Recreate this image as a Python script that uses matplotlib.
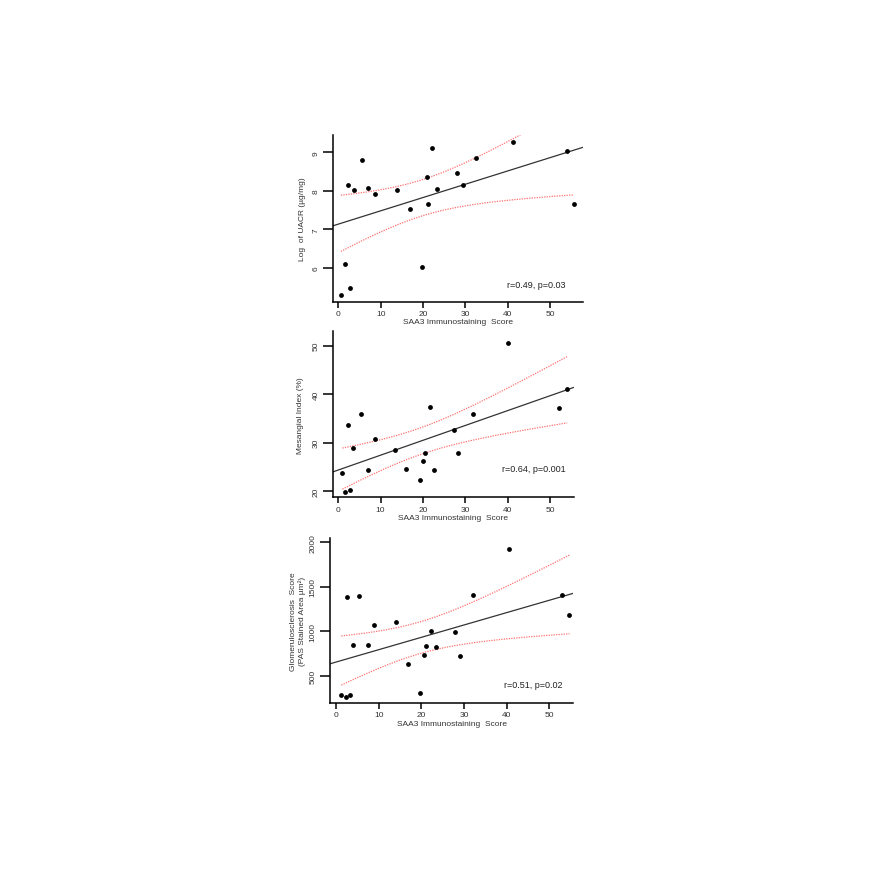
import numpy as np
import matplotlib.pyplot as plt

plt.rcParams['font.family'] = ['Liberation Sans', 'DejaVu Sans']

# panel 1: log UACR vs SAA3 score
x1 = [0.6, 1.6, 2.2, 2.75, 3.6, 5.5, 7.1, 8.7, 13.9, 16.9, 19.7, 20.9, 21.2,
      22.2, 23.2, 28.0, 29.4, 32.4, 41.2, 54.0, 55.6]
y1 = [5.30, 6.10, 8.16, 5.48, 8.02, 8.79, 8.06, 7.92, 8.02, 7.53, 6.03, 8.37,
      7.66, 9.10, 8.05, 8.45, 8.16, 8.85, 9.28, 9.03, 7.66]

# panel 2: mesangial index vs SAA3 score
x2 = [1.0, 1.7, 2.7, 2.3, 3.6, 5.4, 7.1, 8.7, 13.5, 16.1, 19.3, 20.0, 20.5,
      21.6, 22.5, 27.4, 28.3, 31.7, 40.0, 52.1, 54.0]
y2 = [23.8, 19.9, 20.3, 33.7, 29.0, 35.9, 24.4, 30.7, 28.5, 24.6, 22.4, 26.3,
      27.9, 37.4, 24.3, 32.7, 27.8, 35.9, 50.6, 37.1, 41.1]

# panel 3: glomerulosclerosis vs SAA3 score
x3 = [1.25, 2.3, 3.3, 2.7, 5.5, 4.1, 7.5, 8.9, 14.1, 16.8, 19.7, 20.7, 21.2,
      22.2, 23.4, 27.8, 29.0, 32.0, 40.5, 53.0, 54.7]
y3 = [286, 260, 286, 1383, 1394, 844, 840, 1074, 1100, 629, 301, 730, 832,
      1002, 825, 987, 719, 1405, 1929, 1413, 1187]

ylabels = ['Log  of UACR (\u00b5g/mg)',
           'Mesangial Index (%)',
           'Glomerulosclerosis  Score\n(PAS Stained Area \u00b5m\u00b2)']
stats = ['r=0.49, p=0.03', 'r=0.64, p=0.001', 'r=0.51, p=0.02']
yticks = [[6, 7, 8, 9], [20, 30, 40, 50], [500, 1000, 1500, 2000]]
xticks = [0, 10, 20, 30, 40, 50]

T_CRIT = 2.093  # t(0.975, df=19)
TXT = '#333333'

fig = plt.figure(figsize=(8.7, 8.7), dpi=100)

boxes = [[0.3828, 0.6521, 0.2877, 0.1916],
         [0.3824, 0.4272, 0.2777, 0.1911],
         [0.3793, 0.1908, 0.2797, 0.1893]]
xlims = [(-1.25, 57.8), (-1.3, 55.7), (-1.4, 55.6)]
ylims = [(5.12, 9.45), (18.76, 53.0), (192, 2046)]
ann_pos = [(536, 286), (534, 469), (533, 686)]
ylpad = [5, 6, 2.5]

for i, (xs, ys) in enumerate([(x1, y1), (x2, y2), (x3, y3)]):
    xs = np.array(xs)
    ys = np.array(ys)
    ax = fig.add_axes(boxes[i])
    ax.set_xlim(*xlims[i])
    ax.set_ylim(*ylims[i])

    # linear fit and 95% confidence band
    b, a = np.polyfit(xs, ys, 1)
    n = len(xs)
    resid = ys - (a + b * xs)
    s = np.sqrt(np.sum(resid ** 2) / (n - 2))
    sxx = np.sum((xs - xs.mean()) ** 2)
    xf = np.linspace(xs.min(), xs.max(), 200)
    half = T_CRIT * s * np.sqrt(1 / n + (xf - xs.mean()) ** 2 / sxx)
    fit = a + b * xf
    xl = np.array(xlims[i])
    ax.plot(xl, a + b * xl, color='#333333', lw=0.9, zorder=2)
    ax.plot(xf, fit + half, color='#ff7070', lw=0.9, ls=(0, (1, 1)), zorder=2)
    ax.plot(xf, fit - half, color='#ff7070', lw=0.9, ls=(0, (1, 1)), zorder=2)

    ax.scatter(xs, ys, s=12, color='black', zorder=3, linewidths=0)

    for sp in ['top', 'right']:
        ax.spines[sp].set_visible(False)
    for sp in ['left', 'bottom']:
        ax.spines[sp].set_linewidth(1.1)
    ax.set_xticks(xticks)
    ax.set_yticks(yticks[i])
    ax.tick_params(axis='x', length=4, width=1.1, labelsize=6, pad=2,
                   labelcolor=TXT)
    ax.tick_params(axis='y', length=7.5, width=1.1, labelsize=6, pad=2,
                   labelcolor=TXT, labelrotation=90)
    for lab in ax.get_yticklabels():
        lab.set_va('center')
    ax.set_xlabel('SAA3 Immunostaining  Score', fontsize=6, color=TXT,
                  labelpad=1)
    ax.set_ylabel(ylabels[i], fontsize=6, color=TXT, labelpad=ylpad[i],
                  linespacing=1.25)

    px, py = ann_pos[i]
    fig.text(px / 870, 1 - py / 870, stats[i], fontsize=6.5, color='#222222',
             ha='center', va='center')

plt.savefig('out.png', dpi=100)
